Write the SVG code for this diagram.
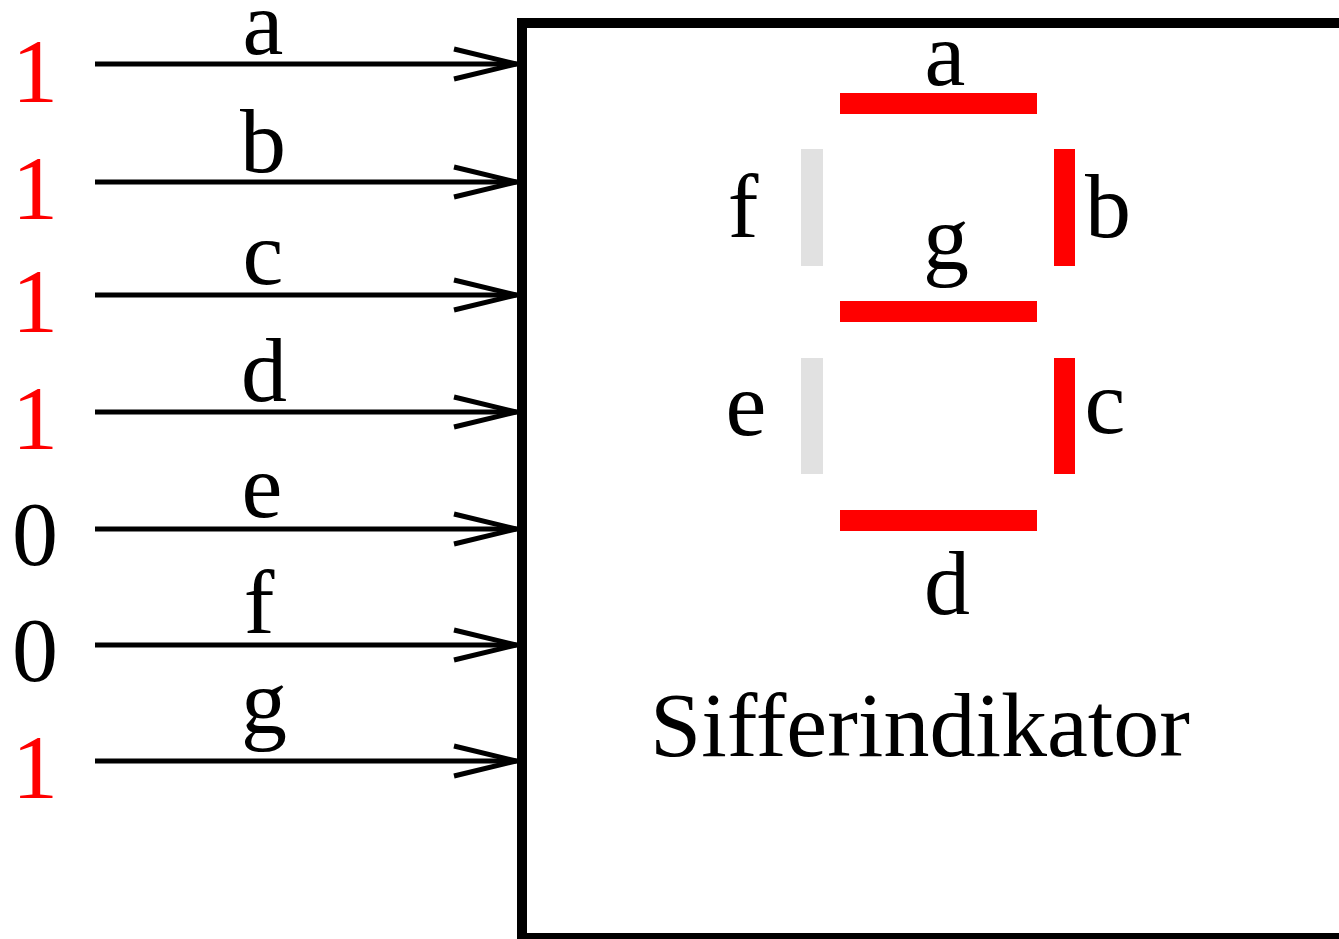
<svg xmlns="http://www.w3.org/2000/svg" width="1339" height="939" viewBox="0 0 1339 939" font-family="'Liberation Serif', Tinos, 'Times New Roman', serif">
<style>
text{font-family:'Liberation Serif',Tinos,'Times New Roman',serif;font-size:92px;fill:#000;text-anchor:middle}
.on{fill:#ff0000}
.off{fill:#e1e1e1}
.red{fill:#ff0000}
.wire{stroke:#000;stroke-width:5;fill:none}
</style>
<rect width="1339" height="939" fill="#fff"/>
<g id="connectors">
<g id="wire-a"><line class="wire" x1="95" y1="64" x2="517" y2="64"/><polyline class="wire" points="454,49 516,64 454,79"/></g>
<g id="wire-b"><line class="wire" x1="95" y1="182" x2="517" y2="182"/><polyline class="wire" points="454,167 516,182 454,197"/></g>
<g id="wire-c"><line class="wire" x1="95" y1="295" x2="517" y2="295"/><polyline class="wire" points="454,280 516,295 454,310"/></g>
<g id="wire-d"><line class="wire" x1="95" y1="412" x2="517" y2="412"/><polyline class="wire" points="454,397 516,412 454,427"/></g>
<g id="wire-e"><line class="wire" x1="95" y1="529" x2="517" y2="529"/><polyline class="wire" points="454,514 516,529 454,544"/></g>
<g id="wire-f"><line class="wire" x1="95" y1="645" x2="517" y2="645"/><polyline class="wire" points="454,630 516,645 454,660"/></g>
<g id="wire-g"><line class="wire" x1="95" y1="761" x2="517" y2="761"/><polyline class="wire" points="454,746 516,761 454,776"/></g>
</g>
<g id="inputs">
<text class="red" x="35" y="102">1</text>
<text class="red" x="35" y="219">1</text>
<text class="red" x="35" y="332">1</text>
<text class="red" x="35" y="449">1</text>
<text x="35" y="565">0</text>
<text x="35" y="681">0</text>
<text class="red" x="35" y="798">1</text>
</g>
<g id="wire-labels">
<text x="263" y="54">a</text>
<text x="263" y="172">b</text>
<text x="263" y="284">c</text>
<text x="264" y="401">d</text>
<text x="262" y="517">e</text>
<text x="259" y="633">f</text>
<text x="264" y="733">g</text>
</g>
<g id="sifferindikator">
<rect x="522" y="23" width="900" height="915" fill="none" stroke="#000" stroke-width="10"/>
<rect id="seg-a" class="on" x="840" y="93" width="197" height="21"/>
<rect id="seg-b" class="on" x="1054" y="149" width="21" height="117"/>
<rect id="seg-c" class="on" x="1054" y="358" width="21" height="116"/>
<rect id="seg-d" class="on" x="840" y="510" width="197" height="21"/>
<rect id="seg-e" class="off" x="801" y="358" width="22" height="116"/>
<rect id="seg-f" class="off" x="801" y="149" width="22" height="117"/>
<rect id="seg-g" class="on" x="840" y="301" width="197" height="21"/>
<text x="945" y="85">a</text>
<text x="1108" y="237">b</text>
<text x="1105" y="433">c</text>
<text x="947" y="614">d</text>
<text x="746" y="435">e</text>
<text x="743" y="237">f</text>
<text x="946" y="269">g</text>
<text x="920" y="756">Sifferindikator</text>
</g>
</svg>
